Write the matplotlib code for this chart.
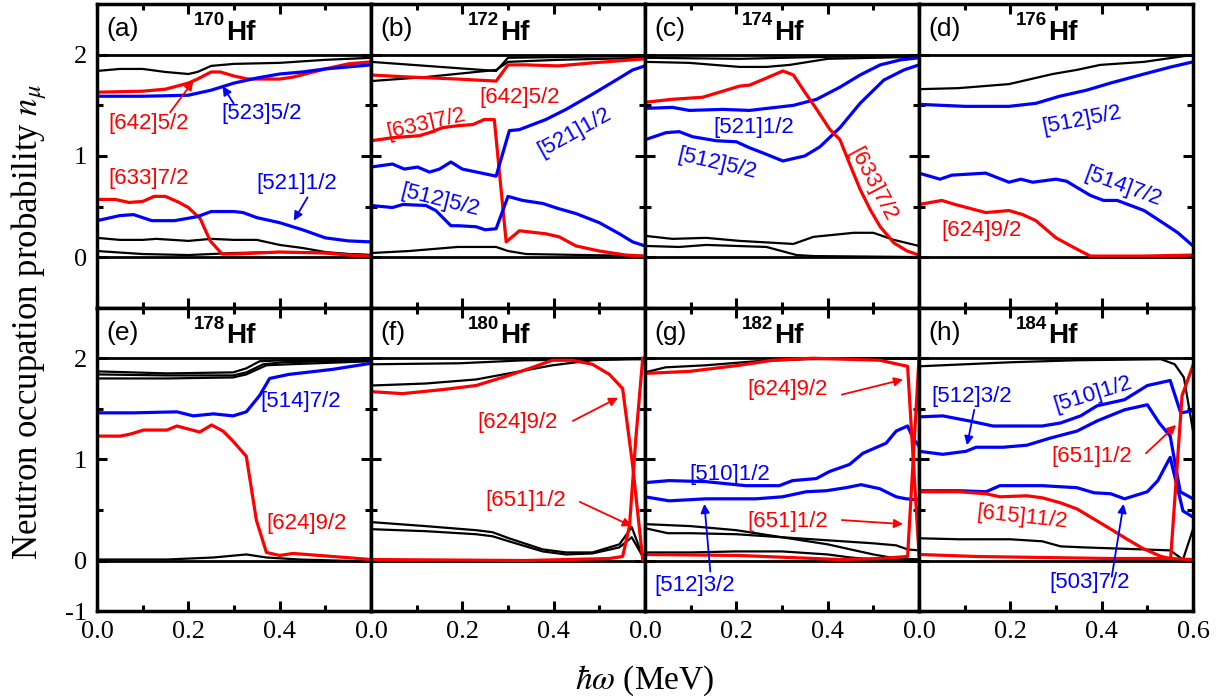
import numpy as np
import matplotlib.pyplot as plt
from matplotlib.ticker import MultipleLocator

plt.rcParams['font.family'] = 'Liberation Serif'
plt.rcParams['mathtext.fontset'] = 'stix'
plt.rcParams['axes.unicode_minus'] = False

RED = '#ff0000'
BLUE = '#0000ff'
BLK = '#000000'

# ---- (a) 170Hf ----
a_k1_x = [0, .05, .1, .15, .2, .22, .25, .3, .4, .5, .6]
a_k1_y = [1.84, 1.86, 1.86, 1.83, 1.81, 1.83, 1.89, 1.91, 1.92, 1.95, 1.97]
a_642_x = [0, .1, .15, .2, .22, .25, .27, .3, .33, .4, .43, .5, .55, .6]
a_642_y = [1.63, 1.64, 1.66, 1.72, 1.76, 1.83, 1.83, 1.79, 1.76, 1.76, 1.78, 1.86, 1.91, 1.93]
a_523_x = [0, .1, .2, .25, .3, .35, .4, .45, .5, .55, .6]
a_523_y = [1.59, 1.59, 1.60, 1.65, 1.72, 1.77, 1.81, 1.83, 1.86, 1.88, 1.90]
a_633_x = [0, .04, .07, .1, .125, .15, .18, .2, .226, .248, .274, .3, .4, .5, .55, .6]
a_633_y = [.57, .57, .54, .55, .60, .60, .54, .49, .38, .16, .03, .03, .05, .04, .02, .01]
a_521_x = [0, .05, .08, .12, .17, .22, .25, .3, .32, .35, .4, .45, .5, .55, .6]
a_521_y = [.36, .41, .42, .36, .36, .40, .45, .45, .44, .39, .34, .27, .19, .16, .15]
a_k2_x = [0, .05, .1, .13, .2, .25, .3, .35, .4, .45, .5, .55, .6]
a_k2_y = [.19, .17, .17, .18, .16, .18, .17, .17, .12, .09, .05, .03, .02]
a_k3_x = [0, .1, .2, .3, .4, .5, .6]
a_k3_y = [.06, .03, .02, .04, .05, .04, .02]

# ---- (b) 172Hf ----
b_k1_x = [0, .274, .3, .6]
b_k1_y = [1.93, 1.84, 1.97, 1.99]
b_k2_x = [0, .12, .23, .274, .3, .41, .6]
b_k2_y = [1.74, 1.78, 1.83, 1.85, 1.93, 1.95, 1.97]
b_642_x = [0, .084, .19, .274, .3, .34, .41, .485, .6]
b_642_y = [1.80, 1.78, 1.76, 1.74, 1.90, 1.90, 1.89, 1.92, 1.96]
b_633_x = [0, .047, .106, .128, .157, .193, .223, .248, .27, .296, .325, .383, .412, .449, .5, .558, .6]
b_633_y = [1.15, 1.18, 1.20, 1.23, 1.28, 1.30, 1.31, 1.36, 1.36, .15, .26, .23, .20, .11, .06, .02, .01]
b_521_x = [0, .047, .073, .102, .128, .15, .175, .2, .274, .303, .325, .383, .427, .485, .544, .573, .6]
b_521_y = [.89, .92, .87, .89, .84, .87, .94, .87, .80, 1.25, 1.26, 1.36, 1.46, 1.61, 1.77, 1.85, 1.89]
b_512_x = [0, .047, .07, .12, .142, .175, .19, .23, .25, .274, .3, .332, .376, .41, .449, .5, .544, .573, .6]
b_512_y = [.51, .49, .52, .51, .46, .31, .31, .30, .27, .28, .60, .56, .53, .48, .43, .34, .23, .15, .11]
b_k3_x = [0, .084, .19, .274, .3, .34, .6]
b_k3_y = [.04, .06, .10, .10, .06, .03, .01]

# ---- (c) 174Hf ----
c_k1_x = [0, .097, .207, .266, .317, .4, .6]
c_k1_y = [1.93, 1.92, 1.88, 1.88, 1.90, 1.96, 1.98]
c_k2_x = [0, .207, .4, .6]
c_k2_y = [1.97, 1.96, 1.98, 1.99]
c_633_x = [0, .06, .126, .207, .229, .266, .302, .325, .347, .376, .405, .427, .45, .471, .493, .515, .545, .574, .6]
c_633_y = [1.53, 1.56, 1.58, 1.69, 1.70, 1.77, 1.84, 1.80, 1.65, 1.46, 1.26, 1.16, .90, .67, .47, .30, .14, .06, .02]
c_521_x = [0, .06, .097, .17, .229, .325, .376, .427, .471, .515, .56, .6]
c_521_y = [1.47, 1.48, 1.45, 1.46, 1.45, 1.50, 1.56, 1.68, 1.80, 1.90, 1.95, 1.97]
c_512_x = [0, .046, .075, .104, .156, .2, .229, .258, .302, .35, .383, .427, .471, .523, .567, .6]
c_512_y = [1.16, 1.23, 1.24, 1.19, 1.15, 1.14, 1.08, 1.03, .95, 1.00, 1.09, 1.28, 1.52, 1.75, 1.85, 1.90]
c_k3_x = [0, .06, .134, .207, .325, .369, .457, .5, .545, .6]
c_k3_y = [.21, .18, .19, .16, .13, .20, .24, .24, .17, .11]
c_k4_x = [0, .075, .134, .266, .332, .369, .6]
c_k4_y = [.11, .10, .12, .10, .02, .01, 0]

# ---- (d) 176Hf ----
d_k1_x = [0, .086, .197, .293, .345, .397, .493, .6]
d_k1_y = [1.66, 1.67, 1.71, 1.81, 1.85, 1.90, 1.93, 2.0]
d_512_x = [0, .101, .197, .256, .308, .367, .419, .493, .552, .6]
d_512_y = [1.51, 1.49, 1.49, 1.52, 1.59, 1.65, 1.72, 1.81, 1.88, 1.93]
d_514_x = [0, .046, .072, .146, .197, .223, .249, .3, .323, .375, .404, .434, .493, .537, .567, .6]
d_514_y = [.83, .77, .81, .83, .74, .77, .74, .77, .75, .61, .56, .56, .46, .33, .24, .11]
d_624_x = [0, .05, .079, .146, .197, .227, .256, .3, .345, .375, .493, .6]
d_624_y = [.52, .56, .52, .44, .46, .42, .36, .19, .08, .01, .01, .02]

# ---- (e) 178Hf ----
e_k1_x = [0, .153, .298, .327, .356, .407, .6]
e_k1_y = [1.87, 1.85, 1.86, 1.90, 1.97, 1.98, 1.99]
e_k2_x = [0, .153, .298, .327, .364, .407, .6]
e_k2_y = [1.84, 1.83, 1.83, 1.86, 1.94, 1.96, 1.98]
e_k3_x = [0, .153, .298, .327, .371, .42, .6]
e_k3_y = [1.80, 1.80, 1.81, 1.84, 1.93, 1.94, 1.97]
e_514_x = [0, .08, .175, .211, .255, .298, .327, .356, .378, .42, .516, .6]
e_514_y = [1.46, 1.46, 1.47, 1.43, 1.45, 1.43, 1.47, 1.63, 1.80, 1.84, 1.89, 1.95]
e_624_x = [0, .051, .073, .102, .153, .175, .225, .251, .276, .298, .327, .349, .371, .4, .429, .516, .6]
e_624_y = [1.23, 1.23, 1.25, 1.29, 1.29, 1.33, 1.27, 1.34, 1.28, 1.18, 1.03, .40, .08, .05, .07, .04, .01]
e_k4_x = [0, .153, .255, .327, .371, .444, .6]
e_k4_y = [.01, .01, .03, .06, .03, .01, -.01]

# ---- (f) 180Hf ----
f_k1_x = [0, .193, .338, .6]
f_k1_y = [1.94, 1.95, 1.98, 1.99]
f_k2_x = [0, .12, .23, .302, .397, .485, .6]
f_k2_y = [1.73, 1.75, 1.79, 1.85, 1.93, 1.98, 2.0]
f_624_x = [0, .069, .157, .23, .302, .354, .397, .44, .485, .522, .551, .573, .595]
f_624_y = [1.67, 1.65, 1.69, 1.73, 1.83, 1.91, 1.98, 1.98, 1.94, 1.84, 1.70, .94, .01]
f_651_x = [0, .338, .522, .551, .566, .58, .595]
f_651_y = [.01, .0, .02, .04, .34, 1.21, 2.0]
f_k3_x = [0, .12, .23, .266, .302, .376, .427, .485, .544, .571, .595]
f_k3_y = [.38, .34, .30, .28, .22, .11, .08, .08, .16, .33, .04]
f_k4_x = [0, .12, .23, .266, .302, .376, .427, .485, .544, .571, .595]
f_k4_y = [.31, .29, .26, .24, .19, .09, .06, .07, .13, .23, .04]

# ---- (g) 182Hf ----
g_k1_x = [0, .045, .133, .243, .353, .6]
g_k1_y = [1.86, 1.91, 1.93, 1.97, 1.99, 2.0]
g_624_x = [0, .097, .206, .28, .367, .514, .575, .6]
g_624_y = [1.85, 1.87, 1.93, 1.98, 2.0, 1.98, 1.92, .06]
g_651_x = [0, .206, .316, .426, .514, .575, .6]
g_651_y = [.06, .05, .03, .01, .02, .04, 2.0]
g_510_x = [0, .053, .133, .221, .294, .323, .375, .404, .448, .477, .528, .55, .575, .587, .6]
g_510_y = [.77, .79, .78, .74, .74, .79, .81, .88, .95, 1.06, 1.16, 1.28, 1.33, 1.21, 1.13]
g_512_x = [0, .053, .133, .243, .301, .353, .397, .44, .473, .514, .55, .572, .6]
g_512_y = [.63, .59, .61, .61, .63, .68, .69, .72, .75, .71, .63, .61, .60]
g_k2_x = [0, .1, .2, .3, .4, .5, .55, .6]
g_k2_y = [.36, .34, .30, .23, .16, .06, .02, .01]
g_k3_x = [0, .05, .1, .2, .3, .4, .5, .55, .575, .6]
g_k3_y = [.32, .27, .27, .26, .23, .20, .17, .15, .11, .10]
g_k4_x = [0, .1, .2, .3, .4, .45, .5, .6]
g_k4_y = [.08, .08, .09, .09, .06, .03, .01, .01]

# ---- (h) 184Hf ----
h_k1_x = [0, .2, .346, .53, .56, .58, .6]
h_k1_y = [1.92, 1.96, 1.98, 1.99, 1.94, 1.81, 1.28]
h_k2_x = [0, .088, .2, .27, .31, .36, .49, .55, .578, .6]
h_k2_y = [.22, .21, .21, .19, .14, .13, .11, .10, .01, .31]
h_510_x = [0, .052, .11, .162, .27, .31, .354, .39, .45, .5, .55, .573, .6]
h_510_y = [1.42, 1.43, 1.38, 1.33, 1.33, 1.36, 1.43, 1.53, 1.59, 1.73, 1.78, 1.46, 1.48]
h_512_x = [0, .052, .103, .125, .184, .236, .287, .346, .39, .45, .5, .526, .55, .572, .6]
h_512_y = [1.08, 1.05, 1.08, 1.12, 1.12, 1.14, 1.21, 1.28, 1.38, 1.49, 1.54, 1.36, 1.23, .68, .61]
h_503_x = [0, .088, .147, .177, .27, .346, .383, .42, .45, .5, .523, .55, .578, .6]
h_503_y = [.69, .69, .68, .74, .74, .72, .67, .66, .61, .68, .79, 1.02, .49, .43]
h_615_x = [0, .088, .147, .177, .236, .27, .31, .346, .383, .42, .456, .49, .53, .55, .6]
h_615_y = [.68, .68, .66, .63, .64, .62, .57, .51, .41, .31, .21, .12, .04, .02, .01]
h_651_x = [0, .125, .27, .42, .551, .576, .6]
h_651_y = [.06, .04, .03, .02, .02, 1.63, 1.93]

panels = [
    ('(a)', '170', [(a_k1_x, a_k1_y, BLK), (a_k2_x, a_k2_y, BLK), (a_k3_x, a_k3_y, BLK),
                    (a_642_x, a_642_y, RED), (a_523_x, a_523_y, BLUE),
                    (a_633_x, a_633_y, RED), (a_521_x, a_521_y, BLUE)]),
    ('(b)', '172', [(b_k1_x, b_k1_y, BLK), (b_k2_x, b_k2_y, BLK), (b_k3_x, b_k3_y, BLK),
                    (b_642_x, b_642_y, RED), (b_633_x, b_633_y, RED),
                    (b_521_x, b_521_y, BLUE), (b_512_x, b_512_y, BLUE)]),
    ('(c)', '174', [(c_k1_x, c_k1_y, BLK), (c_k2_x, c_k2_y, BLK), (c_k3_x, c_k3_y, BLK),
                    (c_k4_x, c_k4_y, BLK), (c_521_x, c_521_y, BLUE),
                    (c_512_x, c_512_y, BLUE), (c_633_x, c_633_y, RED)]),
    ('(d)', '176', [(d_k1_x, d_k1_y, BLK), (d_512_x, d_512_y, BLUE),
                    (d_514_x, d_514_y, BLUE), (d_624_x, d_624_y, RED)]),
    ('(e)', '178', [(e_k1_x, e_k1_y, BLK), (e_k2_x, e_k2_y, BLK), (e_k3_x, e_k3_y, BLK),
                    (e_k4_x, e_k4_y, BLK), (e_514_x, e_514_y, BLUE), (e_624_x, e_624_y, RED)]),
    ('(f)', '180', [(f_k1_x, f_k1_y, BLK), (f_k2_x, f_k2_y, BLK), (f_k3_x, f_k3_y, BLK),
                    (f_k4_x, f_k4_y, BLK), (f_624_x, f_624_y, RED), (f_651_x, f_651_y, RED)]),
    ('(g)', '182', [(g_k1_x, g_k1_y, BLK), (g_k2_x, g_k2_y, BLK), (g_k3_x, g_k3_y, BLK),
                    (g_k4_x, g_k4_y, BLK), (g_510_x, g_510_y, BLUE), (g_512_x, g_512_y, BLUE),
                    (g_624_x, g_624_y, RED), (g_651_x, g_651_y, RED)]),
    ('(h)', '184', [(h_k1_x, h_k1_y, BLK), (h_k2_x, h_k2_y, BLK), (h_510_x, h_510_y, BLUE),
                    (h_512_x, h_512_y, BLUE), (h_503_x, h_503_y, BLUE),
                    (h_615_x, h_615_y, RED), (h_651_x, h_651_y, RED)]),
]

# orbital labels: panel, text, x, y, colour, rotation, arrow (tail, head) or None
labels = [
    (0, '[642]5/2', .025, 1.32, RED, 0, ((.16, 1.43), (.211, 1.74))),
    (0, '[523]5/2', .272, 1.42, BLUE, 0, ((.299, 1.52), (.275, 1.69))),
    (0, '[633]7/2', .025, .78, RED, 0, None),
    (0, '[521]1/2', .350, .73, BLUE, 0, ((.461, .59), (.431, .36))),
    (1, '[642]5/2', .238, 1.58, RED, 0, None),
    (1, '[633]7/2', .120, 1.32, RED, 13, None),
    (1, '[521]1/2', .445, 1.23, BLUE, 29, None),
    (1, '[512]5/2', .152, .56, BLUE, -14, None),
    (2, '[521]1/2', .150, 1.28, BLUE, 0, None),
    (2, '[512]5/2', .157, .92, BLUE, -13, None),
    (2, '[633]7/2', .499, .72, RED, -62, None),
    (3, '[512]5/2', .357, 1.36, BLUE, 11, None),
    (3, '[514]7/2', .447, .69, BLUE, -20, None),
    (3, '[624]9/2', .049, .26, RED, 0, None),
    (4, '[514]7/2', .358, 1.57, BLUE, 0, None),
    (4, '[624]9/2', .370, .37, RED, 0, None),
    (5, '[624]9/2', .232, 1.36, RED, 0, ((.442, 1.38), (.541, 1.61))),
    (5, '[651]1/2', .250, .59, RED, 0, ((.457, .58), (.571, .34))),
    (6, '[624]9/2', .224, 1.69, RED, 0, ((.431, 1.64), (.565, 1.79))),
    (6, '[510]1/2', .098, .85, BLUE, 0, None),
    (6, '[651]1/2', .224, .39, RED, 0, ((.431, .40), (.565, .36))),
    (6, '[512]3/2', .020, -.25, BLUE, 0, ((.143, -.11), (.130, .56))),
    (7, '[512]3/2', .026, 1.62, BLUE, 0, ((.121, 1.49), (.105, 1.14))),
    (7, '[510]1/2', .380, 1.64, BLUE, 17, None),
    (7, '[651]1/2', .290, 1.03, RED, 0, ((.497, 1.06), (.563, 1.34))),
    (7, '[615]11/2', .225, .43, RED, -6, None),
    (7, '[503]7/2', .285, -.22, BLUE, 0, ((.422, -.16), (.448, .56))),
]

fig = plt.figure(figsize=(12.26, 7), dpi=100)
left, right, top, bottom = 0.0791, 0.9731, 0.994, 0.127
w = (right - left) / 4
h = (top - bottom) / 2

axes = []
for i, (tag, mass, curves) in enumerate(panels):
    row, col = divmod(i, 4)
    ax = fig.add_axes([left + col * w, top - (row + 1) * h, w, h])
    axes.append(ax)
    ax.set_xlim(0, 0.6)
    ax.set_ylim(-0.5, 2.5)
    ax.axhline(0, color='k', lw=2.0, zorder=1)
    ax.axhline(2, color='k', lw=2.0, zorder=1)
    for xs, ys, c in curves:
        lw = 1.6 if c == BLK else 2.3
        ax.plot(xs, ys, color=c, lw=lw, zorder=2)

    ax.text(0.02, 2.25, tag, fontsize=19, family='Liberation Sans', va='center')
    ax.text(0.212, 2.29, mass, fontsize=13.5, family='Liberation Sans',
            fontweight='bold', va='baseline')
    ax.text(0.282, 2.15, 'Hf', fontsize=20, family='Liberation Sans',
            fontweight='bold', va='baseline')

    for s in ax.spines.values():
        s.set_linewidth(2.5)
    ax.xaxis.set_major_locator(MultipleLocator(0.2))
    ax.xaxis.set_minor_locator(MultipleLocator(0.1))
    ax.set_yticks([-0.5, 0, 1, 2])
    ax.yaxis.set_minor_locator(MultipleLocator(0.5))
    ax.tick_params(which='both', direction='in', top=True, right=True,
                   width=2.2, labelsize=19, pad=7)
    ax.tick_params(which='major', length=7)
    ax.tick_params(which='minor', length=4.5)

    if col == 0:
        if row == 1:
            ax.set_yticklabels(['-1', '0', '1', '2'])
        else:
            ax.set_yticklabels(['', '0', '1', '2'])
    else:
        ax.set_yticklabels([])
    if row == 1:
        ax.set_xticks([0, 0.2, 0.4, 0.6])
        if col == 3:
            ax.set_xticklabels(['0.0', '0.2', '0.4', '0.6'])
        else:
            ax.set_xticklabels(['0.0', '0.2', '0.4', ''])
    else:
        ax.set_xticklabels([])

for p, txt, x, y, c, rot, arrow in labels:
    ax = axes[p]
    if rot == 0:
        ax.text(x, y, txt, color=c, fontsize=16, family='Liberation Sans',
                ha='left', va='center', zorder=4)
    else:
        ax.text(x, y, txt, color=c, fontsize=16, family='Liberation Sans',
                ha='center', va='center', rotation=rot, rotation_mode='anchor', zorder=4)
    if arrow is not None:
        tail, head = arrow
        ax.annotate('', xy=head, xytext=tail,
                    arrowprops=dict(arrowstyle='-|>', color=c, lw=1.3,
                                    mutation_scale=13, shrinkA=0, shrinkB=0),
                    zorder=4)

fig.text(0.024, 0.54, r'Neutron occupation probability $n_\mu$', rotation=90,
         fontsize=25, ha='center', va='center')
fig.text((left + right) / 2, 0.027, r'$\hbar\omega$ (MeV)', fontsize=24,
         ha='center', va='center')

fig.savefig('out.png', dpi=100)
